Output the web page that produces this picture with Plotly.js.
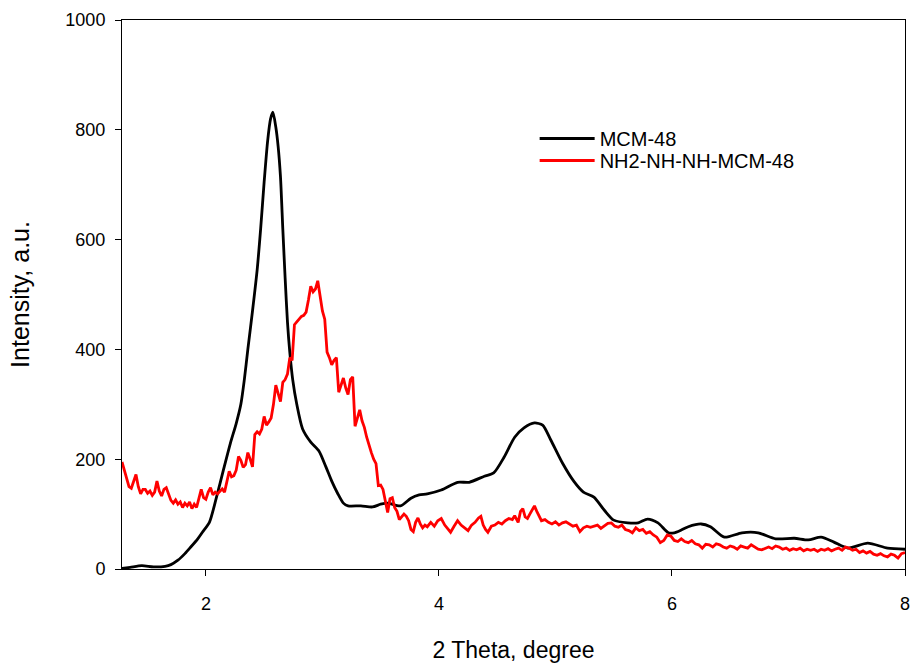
<!DOCTYPE html>
<html>
<head>
<meta charset="utf-8">
<script src="https://cdn.plot.ly/plotly-3.0.1.min.js"></script>
<style>html,body{margin:0;padding:0;background:#fff;}#chart{width:916px;height:663px;}</style>
</head>
<body>
<div id="chart"></div>
<script>
// MCM-48 (smooth curve)
const mcmX = [1.28,1.35,1.45,1.55,1.65,1.70,1.76,1.82,1.87,1.93,1.97,2.03,2.09,2.15,2.21,2.26,2.30,2.33,2.36,2.40,2.44,2.47,2.50,2.53,2.555,2.575,2.60,2.62,2.64,2.66,2.68,2.70,2.72,2.745,2.78,2.83,2.90,2.97,3.03,3.08,3.13,3.18,3.22,3.33,3.43,3.50,3.56,3.67,3.76,3.83,3.90,4.02,4.16,4.26,4.39,4.47,4.56,4.65,4.73,4.82,4.89,4.96,5.06,5.16,5.24,5.33,5.42,5.50,5.62,5.71,5.79,5.88,5.97,6.02,6.08,6.14,6.25,6.33,6.45,6.60,6.74,6.89,7.05,7.17,7.28,7.39,7.51,7.68,7.85,8.0];
const mcmY = [1,3,6,4,5,8,16,28,40,55,67,85,130,180,229,265,300,345,400,470,545,620,705,780,820,832,805,770,715,620,530,450,395,345,300,255,231,215,186,160,138,120,115,115,113,118,120,115,129,135,137,144,158,158,169,175,204,240,257,266,262,235,193,159,140,131,107,89,84,84,91,84,66,66,71,77,82,77,58,66,66,55,56,53,58,49,38,47,38,36];

// NH2-NH-NH-MCM-48 (noisy curve)
const nhX = [1.28,1.30,1.32,1.34,1.36,1.38,1.40,1.42,1.44,1.46,1.48,1.50,1.52,1.54,1.56,1.58,1.60,1.62,1.64,1.66,1.68,1.70,1.72,1.74,1.76,1.78,1.80,1.82,1.84,1.86,1.88,1.90,1.92,1.94,1.96,1.98,2.00,2.02,2.04,2.06,2.08,2.10,2.12,2.14,2.16,2.18,2.20,2.22,2.24,2.26,2.28,2.30,2.32,2.34,2.36,2.38,2.40,2.42,2.44,2.46,2.48,2.50,2.52,2.54,2.56,2.58,2.60,2.62,2.64,2.66,2.68,2.70,2.72,2.74,2.76,2.78,2.80,2.82,2.84,2.86,2.88,2.90,2.92,2.94,2.96,2.98,3.00,3.02,3.04,3.06,3.08,3.10,3.12,3.14,3.16,3.18,3.20,3.22,3.24,3.26,3.28,3.30,3.32,3.34,3.36,3.38,3.40,3.42,3.44,3.46,3.48,3.50,3.52,3.54,3.56,3.58,3.60,3.62,3.64,3.66,3.68,3.70,3.72,3.74,3.76,3.78,3.80,3.82,3.84,3.86,3.88,3.90,3.93,3.96,3.99,4.02,4.05,4.08,4.10,4.13,4.16,4.19,4.22,4.25,4.28,4.31,4.34,4.36,4.38,4.40,4.42,4.45,4.48,4.51,4.54,4.57,4.60,4.63,4.65,4.68,4.70,4.72,4.74,4.76,4.78,4.80,4.82,4.84,4.86,4.88,4.91,4.94,4.97,5.00,5.03,5.06,5.09,5.12,5.15,5.18,5.21,5.24,5.27,5.30,5.33,5.36,5.39,5.42,5.45,5.48,5.51,5.54,5.57,5.60,5.63,5.66,5.69,5.72,5.75,5.78,5.81,5.84,5.87,5.90,5.93,5.96,5.99,6.02,6.05,6.08,6.11,6.14,6.17,6.20,6.23,6.26,6.29,6.32,6.35,6.38,6.41,6.44,6.47,6.50,6.53,6.56,6.59,6.62,6.65,6.68,6.71,6.74,6.77,6.80,6.83,6.86,6.89,6.92,6.95,6.98,7.01,7.04,7.07,7.10,7.13,7.16,7.19,7.22,7.25,7.28,7.31,7.34,7.37,7.40,7.43,7.46,7.49,7.52,7.55,7.58,7.61,7.64,7.67,7.70,7.73,7.76,7.79,7.82,7.85,7.88,7.91,7.94,7.97,8.00];
const nhY = [195,180,160,150,147,160,172,150,137,145,145,138,142,134,140,160,142,133,145,148,138,125,120,126,118,122,112,120,115,122,110,118,112,128,145,130,127,140,148,135,140,137,142,146,140,160,178,168,170,180,205,198,185,190,212,200,186,245,250,246,255,278,262,268,275,300,335,320,305,340,345,355,385,380,445,450,455,460,462,468,490,515,505,510,525,495,470,455,395,385,372,380,385,322,335,348,330,318,345,350,260,275,290,270,258,240,225,212,200,192,152,153,145,120,103,128,130,112,105,90,95,100,96,88,72,68,85,93,82,75,80,77,85,78,88,92,80,72,67,78,88,80,75,70,80,85,93,96,80,72,67,78,80,85,82,88,92,90,97,85,105,110,95,92,100,108,115,105,95,88,90,85,82,86,80,84,86,82,78,80,68,75,78,76,78,80,74,78,83,84,78,76,80,72,70,66,75,70,72,65,68,62,58,48,52,62,60,52,50,55,50,48,52,46,44,38,45,44,40,46,44,40,38,42,40,36,42,40,38,44,40,36,35,38,40,37,42,40,36,38,34,37,35,38,33,36,34,36,32,36,34,37,33,36,38,34,40,38,34,36,30,33,29,32,27,25,28,24,22,27,25,20,28,30];

const seriesNames = ['MCM-48', 'NH2-NH-NH-MCM-48'];
const xTicks = [2, 4, 6, 8];
const yTicks = [0, 200, 400, 600, 800, 1000];

const font = 'Liberation Sans, Arial, sans-serif';

const traces = [
  {x: mcmX, y: mcmY, name: seriesNames[0], type: 'scatter', mode: 'lines', legend: 'legend',
   line: {color: '#000000', width: 2.8, shape: 'spline', smoothing: 0.7}},
  {x: nhX, y: nhY, name: seriesNames[1], type: 'scatter', mode: 'lines', legend: 'legend2',
   line: {color: '#ff0000', width: 2.8}}
];

const legendBase = {xanchor: 'left', yanchor: 'top', itemwidth: 55,
  bgcolor: 'rgba(0,0,0,0)', font: {family: font, size: 20, color: '#000'}};

const layout = {
  width: 916, height: 663,
  margin: {l: 122, r: 11, t: 20, b: 94},
  paper_bgcolor: '#ffffff', plot_bgcolor: '#ffffff',
  font: {family: font, size: 18, color: '#000'},
  showlegend: true,
  legend: Object.assign({x: 0.527, y: 0.8197}, legendBase),
  legend2: Object.assign({x: 0.527, y: 0.7796}, legendBase),
  xaxis: {
    range: [1.28, 8], tickvals: xTicks, ticktext: xTicks.map(String),
    ticks: 'outside', ticklen: 6, tickwidth: 1, tickcolor: '#000',
    showline: true, linecolor: '#000', linewidth: 1, mirror: true,
    showgrid: false, zeroline: false, ticklabelstandoff: 12,
    tickfont: {family: font, size: 18},
    title: {text: '2 Theta, degree', font: {family: font, size: 23}, standoff: 32}
  },
  yaxis: {
    range: [0, 1000], tickvals: yTicks, ticktext: yTicks.map(String),
    ticks: 'outside', ticklen: 6, tickwidth: 1, tickcolor: '#000',
    showline: true, linecolor: '#000', linewidth: 1, mirror: true,
    showgrid: false, zeroline: false, ticklabelstandoff: 6,
    tickfont: {family: font, size: 18},
    title: {text: 'Intensity, a.u.', font: {family: font, size: 25}, standoff: 28}
  }
};

Plotly.newPlot('chart', traces, layout, {displayModeBar: false, staticPlot: true});
</script>
</body>
</html>
